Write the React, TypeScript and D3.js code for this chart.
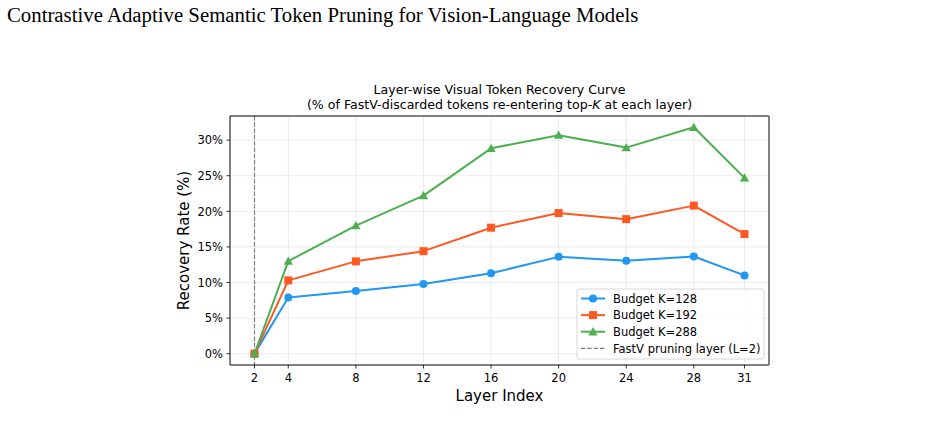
import React, { useEffect, useRef } from "react";
import * as d3 from "d3";

const layers = [2, 4, 8, 12, 16, 20, 24, 28, 31];
const xTicks = [2, 4, 8, 12, 16, 20, 24, 28, 31];
const yTicks = [0, 5, 10, 15, 20, 25, 30];
const k128 = [0, 7.9, 8.8, 9.8, 11.3, 13.6, 13.05, 13.65, 11.0];
const k192 = [0, 10.3, 12.97, 14.4, 17.7, 19.75, 18.9, 20.8, 16.8];
const k288 = [0, 13.0, 18.0, 22.2, 28.85, 30.7, 28.95, 31.8, 24.7];
const seriesNames = ["Budget K=128", "Budget K=192", "Budget K=288"];
const seriesColors = ["#2196F3", "#FF5722", "#4CAF50"];
const seriesMarkers = ["circle", "square", "triangle"];
const pruneLayer = 2;

const W = 941;
const H = 427;
const M = { left: 230, right: 769, top: 116, bottom: 365 };
const SANS = "'DejaVu Sans', sans-serif";
const TICK_FS = 11.5;

export default function App() {
  const ref = useRef<SVGSVGElement>(null);

  useEffect(() => {
    const svg = d3.select(ref.current);
    svg.selectAll("*").remove();

    svg
      .append("text")
      .attr("x", 7)
      .attr("y", 22)
      .attr("font-family", "'Liberation Serif', 'Times New Roman', serif")
      .attr("font-size", 20.8)
      .attr("fill", "#000")
      .text("Contrastive Adaptive Semantic Token Pruning for Vision-Language Models");

    const allVals = [...k128, ...k192, ...k288];
    const yMax = d3.max(allVals) as number;
    const yMin = 0;
    const yPad = (yMax - yMin) * 0.05;
    const x = d3
      .scaleLinear()
      .domain([2 - 29 * 0.05, 31 + 29 * 0.05])
      .range([M.left, M.right]);
    const y = d3
      .scaleLinear()
      .domain([yMin - yPad, yMax + yPad])
      .range([M.bottom, M.top]);

    const g = svg.append("g");

    // grid
    g.selectAll(".gx")
      .data(xTicks)
      .join("line")
      .attr("x1", (d) => x(d))
      .attr("x2", (d) => x(d))
      .attr("y1", M.top)
      .attr("y2", M.bottom)
      .attr("stroke", "#b0b0b0")
      .attr("stroke-opacity", 0.3)
      .attr("stroke-width", 0.8);
    g.selectAll(".gy")
      .data(yTicks)
      .join("line")
      .attr("x1", M.left)
      .attr("x2", M.right)
      .attr("y1", (d) => y(d))
      .attr("y2", (d) => y(d))
      .attr("stroke", "#b0b0b0")
      .attr("stroke-opacity", 0.3)
      .attr("stroke-width", 0.8);

    // pruning layer marker
    g.append("line")
      .attr("x1", x(pruneLayer))
      .attr("x2", x(pruneLayer))
      .attr("y1", M.top)
      .attr("y2", M.bottom)
      .attr("stroke", "#808080")
      .attr("stroke-width", 1.2)
      .attr("stroke-dasharray", "4.4,1.9");

    const allSeries = [k128, k192, k288];
    const line = d3
      .line<number>()
      .x((_, i) => x(layers[i]))
      .y((d) => y(d));

    const drawMarker = (
      sel: any,
      kind: string,
      cx: number,
      cy: number,
      color: string
    ) => {
      if (kind === "circle") {
        sel.append("circle").attr("cx", cx).attr("cy", cy).attr("r", 4).attr("fill", color);
      } else if (kind === "square") {
        sel
          .append("rect")
          .attr("x", cx - 4)
          .attr("y", cy - 4)
          .attr("width", 8)
          .attr("height", 8)
          .attr("fill", color);
      } else {
        const r = 4.6;
        sel
          .append("path")
          .attr(
            "d",
            `M${cx},${cy - r}L${cx + r},${cy + r * 0.8}L${cx - r},${cy + r * 0.8}Z`
          )
          .attr("fill", color);
      }
    };

    allSeries.forEach((vals, si) => {
      const sg = g.append("g") as any;
      sg.append("path")
        .attr("d", line(vals))
        .attr("fill", "none")
        .attr("stroke", seriesColors[si])
        .attr("stroke-width", 2)
        .attr("stroke-linejoin", "round");
      vals.forEach((v, i) => drawMarker(sg, seriesMarkers[si], x(layers[i]), y(v), seriesColors[si]));
    });

    // spines
    g.append("line").attr("x1", M.left).attr("x2", M.right).attr("y1", M.top).attr("y2", M.top).attr("stroke", "#000").attr("stroke-width", 1);
    g.append("line").attr("x1", M.left).attr("x2", M.left).attr("y1", M.top).attr("y2", M.bottom).attr("stroke", "#000").attr("stroke-width", 1);
    g.append("line").attr("x1", M.left).attr("x2", M.right).attr("y1", M.bottom).attr("y2", M.bottom).attr("stroke", "#000").attr("stroke-width", 1);
    g.append("line").attr("x1", M.right).attr("x2", M.right).attr("y1", M.top).attr("y2", M.bottom).attr("stroke", "#808080").attr("stroke-width", 2);

    // x axis
    const xa = g.append("g");
    xTicks.forEach((t) => {
      xa.append("line").attr("x1", x(t)).attr("x2", x(t)).attr("y1", M.bottom).attr("y2", M.bottom + 3.5).attr("stroke", "#000").attr("stroke-width", 0.8);
      xa.append("text")
        .attr("x", x(t))
        .attr("y", M.bottom + 16.5)
        .attr("text-anchor", "middle")
        .attr("font-family", SANS)
        .attr("font-size", TICK_FS)
        .attr("fill", "#000")
        .text(String(t));
    });
    const ya = g.append("g");
    yTicks.forEach((t) => {
      ya.append("line").attr("x1", M.left - 3.5).attr("x2", M.left).attr("y1", y(t)).attr("y2", y(t)).attr("stroke", "#000").attr("stroke-width", 0.8);
      ya.append("text")
        .attr("x", M.left - 7)
        .attr("y", y(t) + 4.2)
        .attr("text-anchor", "end")
        .attr("font-family", SANS)
        .attr("font-size", TICK_FS)
        .attr("fill", "#000")
        .text(`${t}%`);
    });

    // axis labels
    g.append("text")
      .attr("x", (M.left + M.right) / 2)
      .attr("y", 401)
      .attr("text-anchor", "middle")
      .attr("font-family", SANS)
      .attr("font-size", 15)
      .attr("fill", "#000")
      .text("Layer Index");
    g.append("text")
      .attr("transform", `translate(189,${(M.top + M.bottom) / 2}) rotate(-90)`)
      .attr("text-anchor", "middle")
      .attr("font-family", SANS)
      .attr("font-size", 15)
      .attr("fill", "#000")
      .text("Recovery Rate (%)");

    // title
    const tx = (M.left + M.right) / 2;
    g.append("text")
      .attr("x", tx)
      .attr("y", 94)
      .attr("text-anchor", "middle")
      .attr("font-family", SANS)
      .attr("font-size", 12.6)
      .attr("fill", "#000")
      .text("Layer-wise Visual Token Recovery Curve");
    const t2 = g
      .append("text")
      .attr("x", tx)
      .attr("y", 108.5)
      .attr("text-anchor", "middle")
      .attr("font-family", SANS)
      .attr("font-size", 12.6)
      .attr("fill", "#000");
    t2.append("tspan").text("(% of FastV-discarded tokens re-entering top-");
    t2.append("tspan").attr("font-style", "italic").text("K");
    t2.append("tspan").text(" at each layer)");

    // legend
    const lx = 577;
    const ly = 289;
    const lw = 187;
    const lh = 70;
    const lg = g.append("g");
    lg.append("rect")
      .attr("x", lx)
      .attr("y", ly)
      .attr("width", lw)
      .attr("height", lh)
      .attr("rx", 2)
      .attr("fill", "#fff")
      .attr("fill-opacity", 0.8)
      .attr("stroke", "#d6d6d6")
      .attr("stroke-width", 1);
    const rowY = (i: number) => ly + 9.5 + i * 16.6;
    seriesNames.forEach((name, i) => {
      const cy = rowY(i);
      lg.append("line")
        .attr("x1", lx + 4)
        .attr("x2", lx + 28)
        .attr("y1", cy)
        .attr("y2", cy)
        .attr("stroke", seriesColors[i])
        .attr("stroke-width", 2);
      drawMarker(lg, seriesMarkers[i], lx + 16, cy, seriesColors[i]);
      lg.append("text")
        .attr("x", lx + 36)
        .attr("y", cy + 4.2)
        .attr("font-family", SANS)
        .attr("font-size", TICK_FS)
        .attr("fill", "#000")
        .text(name);
    });
    const cy4 = rowY(3);
    lg.append("line")
      .attr("x1", lx + 4)
      .attr("x2", lx + 28)
      .attr("y1", cy4)
      .attr("y2", cy4)
      .attr("stroke", "#808080")
      .attr("stroke-width", 1.2)
      .attr("stroke-dasharray", "4.4,1.9");
    lg.append("text")
      .attr("x", lx + 36)
      .attr("y", cy4 + 4.2)
      .attr("font-family", SANS)
      .attr("font-size", TICK_FS)
      .attr("fill", "#000")
      .text("FastV pruning layer (L=2)");
  }, []);

  return (
    <svg
      ref={ref}
      width={W}
      height={H}
      style={{ position: "absolute", left: 0, top: 0, background: "#fff" }}
    />
  );
}
